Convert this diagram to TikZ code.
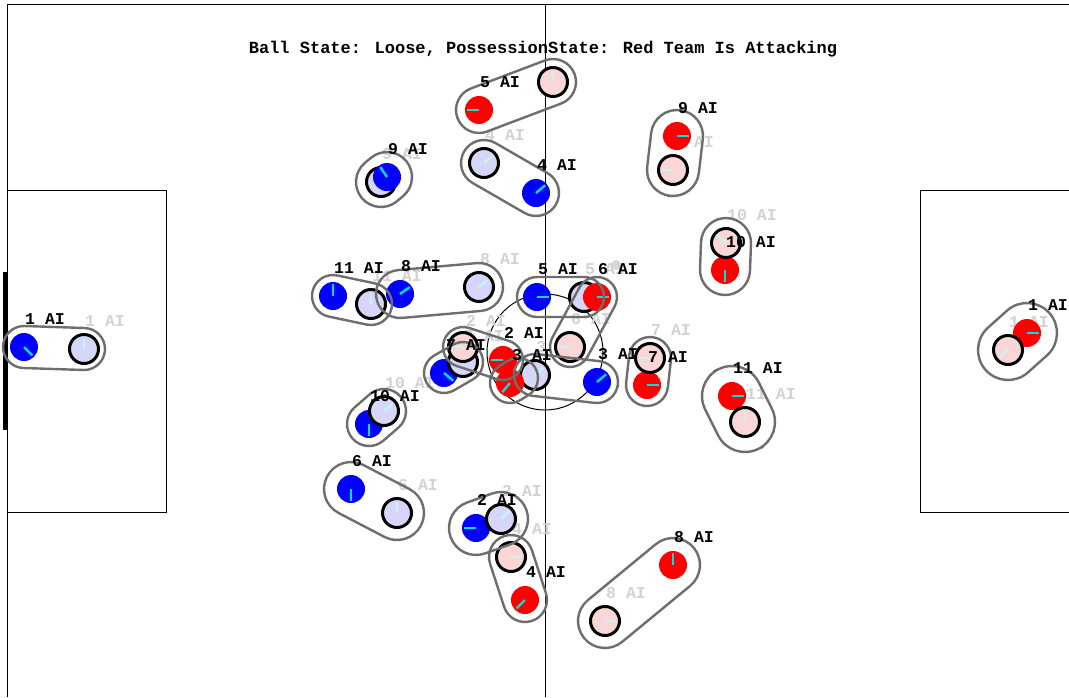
\documentclass[tikz,border=0pt]{standalone}
\usepackage{fontspec}
\newfontfamily\mono{Liberation Mono}
\definecolor{bl}{RGB}{0,0,255}
\definecolor{lav}{RGB}{214,214,248}
\definecolor{rd}{RGB}{255,0,0}
\definecolor{pk}{RGB}{250,214,214}
\definecolor{cy}{RGB}{0,224,224}
\definecolor{pcy}{RGB}{200,244,244}
\definecolor{capg}{RGB}{110,110,110}
\definecolor{ghl}{RGB}{210,210,210}
\definecolor{ballc}{RGB}{215,215,215}
\tikzset{
 lab/.style={font=\mono\bfseries\fontsize{16.5}{16.5}\selectfont, anchor=west, inner sep=0pt},
 glab/.style={lab, text=ghl},
 titlelab/.style={font=\mono\bfseries\fontsize{17}{17}\selectfont, inner sep=0pt},
 capsule/.style={draw=capg, line width=2.4pt, inner sep=0pt, outer sep=0pt},
 pitch/.style={draw=black, line width=1pt},
}
\newcommand\cur[4]{\fill[#3] (#1,#2) circle[radius=14];
 \draw[cy, line width=2.4pt] (#1,#2) -- ++(#4:12);}
\newcommand\gho[4]{\filldraw[fill=#3, draw=black, line width=3pt] (#1,#2) circle[radius=14.5];
 \draw[pcy, line width=2.4pt] (#1,#2) -- ++(#4:11);}
\newcommand\caps[5]{%
 \pgfmathsetmacro\cdx{#3-#1}\pgfmathsetmacro\cdy{#4-#2}%
 \pgfmathsetmacro\cang{atan2(-\cdy,\cdx)}%
 \pgfmathsetmacro\clen{veclen(\cdx,\cdy)}%
 \node[capsule, minimum width={\clen pt+2*#5 pt}, minimum height={2*#5 pt}, rounded corners={#5 pt}, rotate=\cang] at ({(#1+#3)/2},{(#2+#4)/2}) {};}
\begin{document}
\begin{tikzpicture}[x=1pt,y=-1pt]
\useasboundingbox (0,0) rectangle (1069,697);
\fill[white] (0,0) rectangle (1069,697);
% pitch
\draw[pitch] (1069,4) -- (7,4) -- (7,697);
\draw[pitch] (545,4) -- (545,697);
\draw[pitch] (7,190) -- (166,190) -- (166,512) -- (7,512);
\draw[pitch] (1069,190) -- (920,190) -- (920,512) -- (1069,512);
\draw[pitch] (545,352) circle[radius=58];
\draw[black, line width=4pt] (5,272) -- (5,430);
\fill[ballc] (616,265) circle[radius=5];
% title
\node[titlelab] (title) at (543,49) {Ball State: Loose, PossessionState: Red Team Is Attacking};
% ghost labels
\node[glab] at (85,321) {1 AI};
\node[glab] at (485,135) {4 AI};
\node[glab] at (382,154) {9 AI};
\node[glab] at (372,276) {11 AI};
\node[glab] at (480,259) {8 AI};
\node[glab] at (585,269) {5 AI};
\node[glab] at (536,347) {3 AI};
\node[glab] at (464,336) {7 AI};
\node[glab] at (385,383) {10 AI};
\node[glab] at (398,485) {6 AI};
\node[glab] at (502,491) {2 AI};
\node[glab] at (674,142) {9 AI};
\node[glab] at (727,215) {10 AI};
\node[glab] at (571,319) {6 AI};
\node[glab] at (466,321) {2 AI};
\node[glab] at (651,330) {7 AI};
\node[glab] at (746,394) {11 AI};
\node[glab] at (606,593) {8 AI};
\node[glab] at (512,529) {4 AI};
\node[glab] at (1009,322) {1 AI};
% blue team
\cur{24}{347}{bl}{45} \gho{84}{349}{lav}{-90}
\gho{484}{163}{lav}{-40} \cur{536}{193}{bl}{-40}
\gho{381}{182}{lav}{-60} \cur{387}{177}{bl}{-124}
\cur{333}{296}{bl}{-90} \gho{371}{304}{lav}{-90}
\cur{400}{294}{bl}{-35} \gho{479}{287}{lav}{-40}
\cur{537}{297}{bl}{0} \gho{584}{297}{lav}{-40}
\gho{535}{375}{lav}{-40} \cur{597}{382}{bl}{-40}
\cur{444}{373}{bl}{40} \gho{463}{362}{lav}{-45}
\cur{369}{424}{bl}{90} \gho{384}{411}{lav}{-40}
\cur{351}{489}{bl}{90} \gho{397}{513}{lav}{-90}
\cur{476}{528}{bl}{180} \gho{501}{519}{lav}{-45}
% red team
\cur{479}{110}{rd}{180} \gho{553}{82}{pk}{-90}
\cur{677}{136}{rd}{0} \gho{673}{170}{pk}{180}
\cur{725}{270}{rd}{90} \gho{726}{243}{pk}{-140}
\gho{570}{347}{pk}{180} \cur{597}{297}{rd}{0}
\gho{463}{347}{pk}{180} \cur{503}{360}{rd}{180}
\cur{510}{383}{rd}{130}
\cur{647}{385}{rd}{0} \gho{650}{358}{pk}{180}
\cur{732}{396}{rd}{0} \gho{745}{422}{pk}{-90}
\cur{673}{565}{rd}{-90} \gho{605}{621}{pk}{0}
\cur{525}{600}{rd}{135} \gho{511}{557}{pk}{0}
\cur{1027}{333}{rd}{0} \gho{1008}{350}{pk}{140}
% capsules
\caps{24}{347}{84}{349}{21}
\caps{536}{193}{484}{163}{23}
\caps{387}{177}{381}{182}{25}
\caps{333}{296}{371}{304}{21}
\caps{400}{294}{479}{287}{24}
\caps{537}{297}{584}{297}{20}
\caps{597}{382}{535}{375}{21}
\caps{444}{373}{463}{362}{20}
\caps{369}{424}{384}{411}{22}
\caps{351}{489}{397}{513}{27}
\caps{476}{528}{501}{519}{27}
\caps{479}{110}{553}{82}{23}
\caps{677}{136}{673}{170}{26}
\caps{725}{270}{726}{243}{25}
\caps{597}{297}{570}{347}{20}
\caps{503}{360}{463}{347}{20}
\caps{510}{383}{518}{378}{20}
\caps{647}{385}{650}{358}{21}
\caps{732}{396}{745}{422}{30}
\caps{673}{565}{605}{621}{27}
\caps{525}{600}{511}{557}{22}
\caps{1027}{333}{1008}{350}{30}
% labels
\node[lab] at (25,319) {1 AI};
\node[lab] at (537,165) {4 AI};
\node[lab] at (388,149) {9 AI};
\node[lab] at (334,268) {11 AI};
\node[lab] at (401,266) {8 AI};
\node[lab] at (538,269) {5 AI};
\node[lab] at (598,354) {3 AI};
\node[lab] at (446,345) {7 AI};
\node[lab] at (370,396) {10 AI};
\node[lab] at (352,461) {6 AI};
\node[lab] at (477,500) {2 AI};
\node[lab] at (480,82) {5 AI};
\node[lab] at (678,108) {9 AI};
\node[lab] at (726,242) {10 AI};
\node[lab] at (598,269) {6 AI};
\node[lab] at (504,333) {2 AI};
\node[lab] at (512,355) {3 AI};
\node[lab] at (648,357) {7 AI};
\node[lab] at (733,368) {11 AI};
\node[lab] at (674,537) {8 AI};
\node[lab] at (526,572) {4 AI};
\node[lab] at (1028,305) {1 AI};
\end{tikzpicture}
\end{document}
